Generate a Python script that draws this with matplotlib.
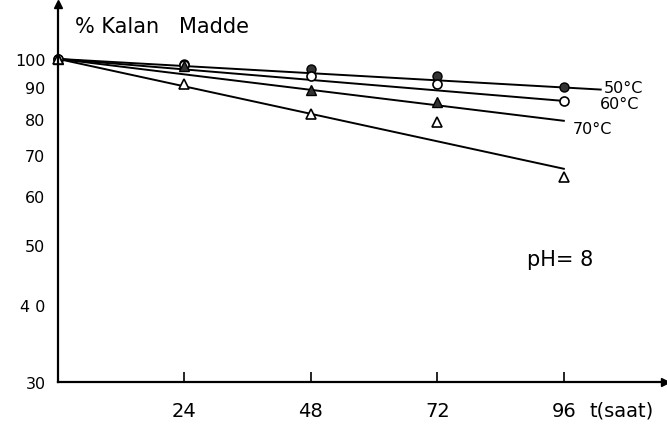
import numpy as np
import matplotlib
matplotlib.use("Agg")
import matplotlib.pyplot as plt

# ---- data ----
t = [0, 24, 48, 72, 96]
kalan_50 = [100, 98.2, 96.3, 93.9, 90.1]
kalan_60 = [100, 97.8, 93.9, 91.1, 85.5]
kalan_70 = [100, 97.5, 89.1, 85.2, np.nan]
kalan_80 = [100, 91.1, 81.5, 79.1, 64.4]

# straight fitted lines (start / end values)
fit_t_50 = [0, 103]
fit_50 = [100, 89.2]
fit_t = [0, 96]
fit_60 = [100, 85.5]
fit_70 = [100, 79.4]
fit_80 = [100, 66.4]

x_ticks = [24, 48, 72, 96]
x_ticklabels = ["24", "48", "72", "96"]
y_ticks = [30, 40, 50, 60, 70, 80, 90, 100]
y_ticklabels = ["30", "4 0", "50", "60", "70", "80", "90", "100"]

plt.rcParams['font.family'] = ['DejaVu Sans']

fig = plt.figure(figsize=(6.67, 4.31), dpi=100)
ax = fig.add_axes([58 / 667, 48 / 431, 607 / 667, 378 / 431])
ax.set_yscale('log')
ax.set_xlim(0, 115.2)
ax.set_ylim(30, 122.7)

lc = 'black'
ax.plot(fit_t_50, fit_50, color=lc, lw=1.4)
ax.plot(fit_t, fit_60, color=lc, lw=1.4)
ax.plot(fit_t, fit_70, color=lc, lw=1.4)
ax.plot(fit_t, fit_80, color=lc, lw=1.4)

ax.plot(t, kalan_50, 'o', ms=6.5, mfc='#333333', mec='black', mew=1.0, clip_on=False)
ax.plot(t, kalan_60, 'o', ms=6.5, mfc='white', mec='black', mew=1.2, clip_on=False)
ax.plot(t, kalan_70, '^', ms=7, mfc='#333333', mec='black', mew=1.0, clip_on=False)
ax.plot(t, kalan_80, '^', ms=7, mfc='white', mec='black', mew=1.2, clip_on=False)

# axes styling
for s in ['top', 'right']:
    ax.spines[s].set_visible(False)
for s in ['left', 'bottom']:
    ax.spines[s].set_linewidth(1.6)
ax.plot(1, 0, '>', color='black', ms=6, transform=ax.transAxes, clip_on=False)
ax.plot(0, 1, '^', color='black', ms=6, transform=ax.transAxes, clip_on=False)

ax.set_xticks(x_ticks)
ax.set_xticklabels(x_ticklabels, fontsize=14)
ax.tick_params(axis='x', direction='in', length=7, width=1.2, pad=14)
ax.set_yticks(y_ticks)
ax.set_yticklabels(y_ticklabels, fontsize=11.5)
ax.yaxis.set_minor_locator(matplotlib.ticker.NullLocator())
ax.tick_params(axis='y', length=0, pad=9)

# texts
fig.text(75 / 667, 1 - 27 / 431, "% Kalan   Madde", fontsize=15, va='center', ha='left')
ax.text(103.6, 90.0, "50°C", fontsize=11.5, va='center', ha='left')
ax.text(102.8, 84.6, "60°C", fontsize=11.5, va='center', ha='left')
ax.text(97.7, 77.1, "70°C", fontsize=11.5, va='center', ha='left')
fig.text(589 / 667, 1 - 411 / 431, "t(saat)", fontsize=14, va='center', ha='left')
ax.text(89.0, 47.4, "pH= 8", fontsize=15, va='center', ha='left')

fig.savefig("out.png", dpi=100)
